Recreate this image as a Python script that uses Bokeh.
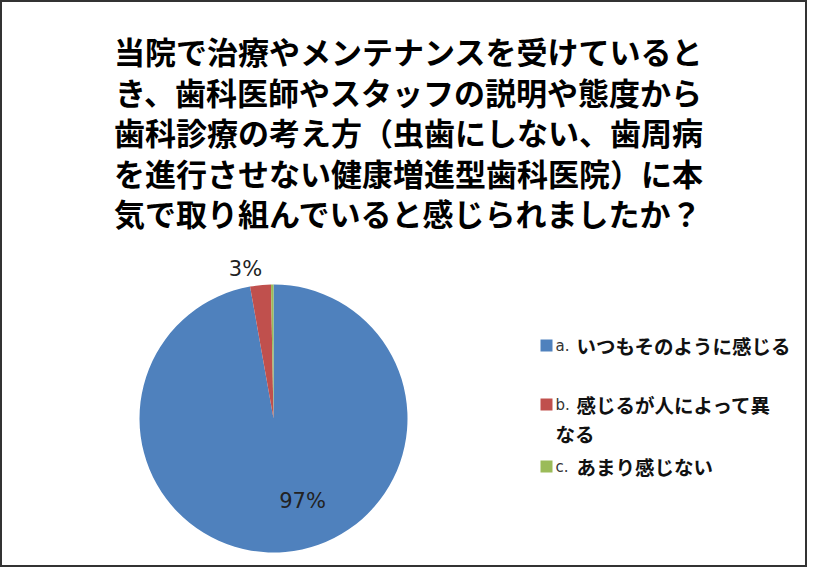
import math
from bokeh.plotting import figure
from bokeh.models import Range1d, ColumnDataSource
from bokeh.core.properties import value
from bokeh.embed import file_html
from bokeh.resources import INLINE

# ---- data ----
title_lines = [
    "当院で治療やメンテナンスを受けていると",
    "き、歯科医師やスタッフの説明や態度から",
    "歯科診療の考え方（虫歯にしない、歯周病",
    "を進行させない健康増進型歯科医院）に本",
    "気で取り組んでいると感じられましたか？",
]
categories = ["a.", "b.", "c."]
category_texts = [["いつもそのように感じる"], ["感じるが人によって異", "なる"], ["あまり感じない"]]
shares = [97.2, 2.5, 0.3]
pct_labels = ["97%", "3%", ""]
colors = ["#4F81BD", "#C0504D", "#9BBB59"]

W, H = 807, 567

p = figure(width=W, height=H, output_backend="svg", toolbar_location=None,
           x_range=Range1d(0, W), y_range=Range1d(0, H),
           min_border=0, min_border_left=0, min_border_right=0,
           min_border_top=0, min_border_bottom=0)
p.axis.visible = False
p.grid.visible = False
p.outline_line_color = "#333333"
p.outline_line_width = 3
p.background_fill_color = "white"


def ydata(sy):
    return H - sy


# title
p.text(x=[408] * len(title_lines), y=[ydata(50 + 40.5 * i) for i in range(len(title_lines))],
       text=title_lines, text_font=value("Noto Sans CJK JP"), text_font_style="bold",
       text_font_size="31px", text_align="center", text_baseline="middle", text_color="black")

# pie
cx, cy, r = 273, ydata(418), 134
total = sum(shares)
starts, ends = [], []
cum = 0.0
for s in shares:
    starts.append(math.pi / 2 - 2 * math.pi * cum / total)
    cum += s
    ends.append(math.pi / 2 - 2 * math.pi * cum / total)
src = ColumnDataSource(dict(start=starts, end=ends, color=colors))
p.wedge(x=cx, y=cy, radius=r, start_angle="start", end_angle="end", direction="clock",
        fill_color="color", line_color=None, source=src)

# percentage labels
lab_x = [302, 245]
lab_y = [ydata(500), ydata(268)]
p.text(x=lab_x, y=lab_y, text=pct_labels[:2], text_font=value("DejaVu Sans"),
       text_font_size="21px", text_align="center", text_baseline="middle", text_color="#222222")

# legend
leg_y = [345, 404, 466]
p.rect(x=[546] * 3, y=[ydata(v) for v in leg_y], width=12, height=12, fill_color=colors,
       line_color=None)
p.text(x=[555] * 3, y=[ydata(v) for v in leg_y], text=categories, text_font=value("DejaVu Sans"),
       text_font_size="15px", text_align="left", text_baseline="middle", text_color="#333333")
lx, ly, lt = [], [], []
for i, lines in enumerate(category_texts):
    for j, t in enumerate(lines):
        lx.append(576 if j == 0 else 555)
        ly.append(ydata(leg_y[i] + 29 * j))
        lt.append(t)
p.text(x=lx, y=ly, text=lt, text_font=value("Noto Sans CJK JP"), text_font_style="bold",
       text_font_size="19.5px", text_align="left", text_baseline="middle", text_color="#111111")

open("out.html", "w").write(file_html(p, INLINE))
